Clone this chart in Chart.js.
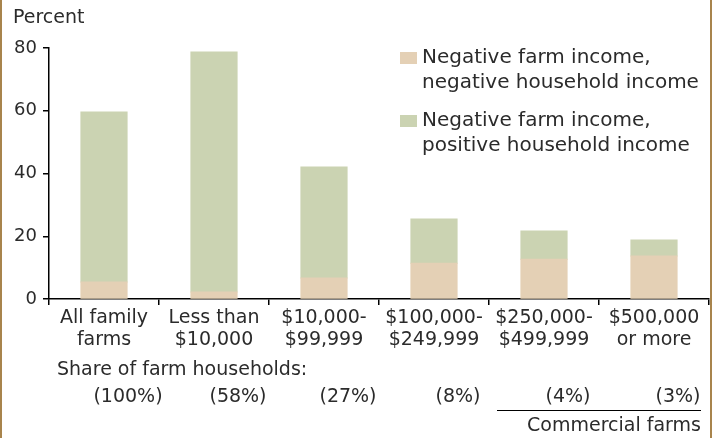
<!DOCTYPE html>
<html>
<head>
<meta charset="utf-8">
<script src="https://cdn.jsdelivr.net/npm/chart.js@4"></script>
<style>
  html, body { margin: 0; padding: 0; background: #fff; }
  #wrap { width: 714px; height: 438px; position: relative; }
</style>
</head>
<body>
<div id="wrap"><canvas id="chart"></canvas></div>
<script>
const categories = [
  ['All family', 'farms'],
  ['Less than', '$10,000'],
  ['$10,000-', '$99,999'],
  ['$100,000-', '$249,999'],
  ['$250,000-', '$499,999'],
  ['$500,000', 'or more']
];
const negHousehold = [5.4, 2.2, 6.7, 11.4, 12.7, 13.7];
const posHousehold = [54.2, 76.5, 35.4, 14.1, 9.0, 5.1];
const shares = ['(100%)', '(58%)', '(27%)', '(8%)', '(4%)', '(3%)'];
const yTicks = [0, 20, 40, 60, 80];

const FONT = 'DejaVu Sans';
const TEXT = '#2b2b2b';

// legend, notes under the axis and the side rules
const extras = {
  id: 'extras',
  afterDraw(chart) {
    const ctx = chart.ctx;
    const x = chart.scales.x;
    ctx.save();
    ctx.fillStyle = TEXT;
    ctx.font = '19px ' + FONT;
    ctx.textBaseline = 'middle';
    ctx.textAlign = 'left';
    ctx.fillText('Percent', 13, 18);

    // legend
    ctx.font = '20px ' + FONT;
    chart.data.datasets.forEach((ds, i) => {
      const top = 52 + i * 63;
      ctx.fillStyle = ds.backgroundColor;
      ctx.fillRect(400, top, 17, 12);
      ctx.fillStyle = TEXT;
      ds.label.forEach((line, j) => ctx.fillText(line, 422, top + 6 + j * 25));
    });

    ctx.font = '19px ' + FONT;
    ctx.fillText('Share of farm households:', 57, 370);
    ctx.textAlign = 'center';
    shares.forEach((s, i) => ctx.fillText(s, x.getPixelForValue(i) + 24, 397));

    const l0 = x.getPixelForValue(4) - 47;
    ctx.strokeStyle = '#000';
    ctx.lineWidth = 1;
    ctx.beginPath();
    ctx.moveTo(l0, 410.5);
    ctx.lineTo(x.right - 8, 410.5);
    ctx.stroke();
    ctx.textAlign = 'right';
    ctx.fillText('Commercial farms', x.right - 8, 426);

    ctx.strokeStyle = '#a8844c';
    ctx.lineWidth = 2;
    ctx.beginPath();
    ctx.moveTo(1, 0); ctx.lineTo(1, 438);
    ctx.moveTo(711, 0); ctx.lineTo(711, 438);
    ctx.stroke();
    ctx.restore();
  }
};

new Chart(document.getElementById('chart'), {
  type: 'bar',
  data: {
    labels: categories,
    datasets: [
      {
        label: ['Negative farm income,', 'negative household income'],
        data: negHousehold,
        backgroundColor: '#e4d0b5',
        inflateAmount: 0.5
      },
      {
        label: ['Negative farm income,', 'positive household income'],
        data: posHousehold,
        backgroundColor: '#cbd3b2',
        inflateAmount: 0.5
      }
    ]
  },
  options: {
    responsive: true,
    maintainAspectRatio: false,
    animation: false,
    layout: { padding: { left: 0, right: 5, top: 48, bottom: 0 } },
    datasets: { bar: { barPercentage: 0.42, categoryPercentage: 1 } },
    plugins: { legend: { display: false }, tooltip: { enabled: false } },
    scales: {
      x: {
        stacked: true,
        offset: true,
        border: { color: '#000', width: 1.5 },
        grid: { offset: true, drawOnChartArea: false, color: '#000', tickLength: 6, lineWidth: 1.5 },
        ticks: {
          color: TEXT,
          font: { family: FONT, size: 19, lineHeight: 1.16 },
          padding: 2,
          maxRotation: 0,
          autoSkip: false
        },
        afterFit(s) { s.height = 139; }
      },
      y: {
        stacked: true,
        min: 0,
        max: 80,
        afterBuildTicks(s) { s.ticks = yTicks.map(v => ({ value: v })); },
        border: { color: '#000', width: 1.5 },
        grid: { drawOnChartArea: false, color: '#000', tickLength: 6, lineWidth: 1.5 },
        ticks: {
          color: TEXT,
          font: { family: FONT, size: 18 },
          padding: 6
        },
        afterFit(s) { s.width = 49; }
      }
    }
  },
  plugins: [extras]
});
</script>
</body>
</html>
